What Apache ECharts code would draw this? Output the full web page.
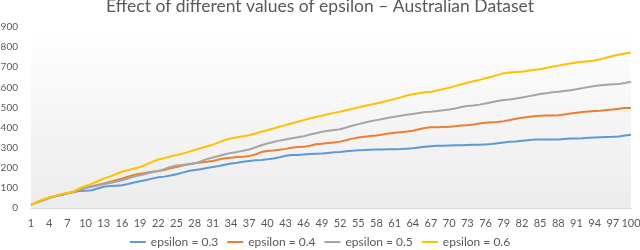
<!DOCTYPE html>
<html>
<head>
<meta charset="utf-8">
<script src="https://cdn.jsdelivr.net/npm/echarts@6/dist/echarts.min.js"></script>
<style>html,body{margin:0;padding:0;background:#fff;}#c{width:640px;height:250px;}</style>
</head>
<body>
<div id="c"></div>
<script>
var categories = [];
for (var i = 1; i <= 100; i++) categories.push(String(i));

var seriesNames = ['epsilon = 0.3', 'epsilon = 0.4', 'epsilon = 0.5', 'epsilon = 0.6'];

var eps03 = [17,28,40,50,58,65,72,79,84,86,88,97,106,109,111,113,119,127,133,139,146,153,156,162,168,176,184,189,193,199,204,209,215,221,225,230,234,237,239,242,246,252,260,263,264,266,268,270,271,274,277,279,282,285,287,288,290,291,291,292,292,293,295,297,301,305,307,309,310,311,312,312,313,314,314,316,318,322,326,329,331,334,337,340,341,341,341,341,343,345,346,347,349,351,352,353,354,356,360,364];

var eps04 = [17,28,40,51,59,66,73,80,88,100,108,115,122,130,138,146,155,164,170,175,180,184,189,197,204,211,218,222,226,230,234,241,247,250,253,255,258,266,278,283,286,290,294,300,303,304,310,317,320,323,326,330,337,345,350,354,358,361,365,370,374,377,380,384,392,398,401,402,403,404,407,410,412,415,420,424,426,428,432,438,444,449,453,456,459,460,460,461,465,470,474,477,480,482,484,487,490,494,497,497];

var eps05 = [17,28,40,51,59,66,73,80,90,100,106,112,118,124,131,138,147,156,163,170,178,184,193,204,211,214,218,222,232,243,251,259,267,274,279,285,291,301,312,321,328,335,341,347,352,357,365,372,379,384,388,392,400,409,417,424,431,437,443,449,454,459,464,467,472,477,479,482,486,490,495,502,507,510,514,520,526,532,537,540,544,549,555,561,567,571,575,578,582,586,590,596,602,607,610,613,615,617,622,628];

var eps06 = [17,30,42,52,60,68,75,82,97,110,120,133,146,156,168,180,188,196,204,216,229,241,248,256,263,270,279,288,297,306,315,326,338,346,352,357,362,370,379,387,395,404,412,420,429,437,445,452,459,466,473,479,486,493,500,507,514,520,527,535,542,550,559,566,571,575,578,584,591,598,606,615,623,630,637,645,653,662,670,674,676,678,682,686,690,696,702,708,713,718,723,727,730,733,740,748,756,763,768,773];

var yTicks = { min: 0, max: 900, interval: 100 };
var titleText = 'Effect of different values of epsilon \u2013 Australian Dataset';

var colors = ['#5B9BD5', '#ED7D31', '#A5A5A5', '#FFC000'];
var dataSets = [eps03, eps04, eps05, eps06];
var font = 'Lato, "Open Sans", sans-serif';

var chart = echarts.init(document.getElementById('c'), null, { renderer: 'canvas' });
chart.setOption({
  animation: false,
  color: colors,
  title: {
    text: titleText,
    left: 'center',
    top: -8,
    textStyle: { fontFamily: font, fontSize: 17.5, fontWeight: 'normal', color: '#595959' }
  },
  legend: {
    data: seriesNames,
    top: 236,
    left: 'center',
    padding: 0,
    itemWidth: 16,
    itemHeight: 10,
    itemGap: 9,
    icon: 'path://M0,4 L16,4 L16,6 L0,6 Z',
    textStyle: { fontFamily: font, fontSize: 12, color: '#595959' }
  },
  grid: {
    left: 31, right: 9, top: 27, bottom: 42,
    outerBoundsMode: 'none',
    containLabel: false,
    show: true, borderWidth: 0,
    backgroundColor: new echarts.graphic.LinearGradient(0, 0, 0, 1, [
      { offset: 0, color: '#ffffff' },
      { offset: 1, color: '#ececec' }
    ])
  },
  xAxis: {
    type: 'category',
    data: categories,
    boundaryGap: false,
    axisLine: { show: true, lineStyle: { color: '#d9d9d9', width: 1 } },
    axisTick: { show: false },
    axisLabel: { interval: 2, margin: 10, fontFamily: font, fontSize: 11, color: '#595959' },
    splitLine: { show: false }
  },
  yAxis: {
    type: 'value',
    min: yTicks.min, max: yTicks.max, interval: yTicks.interval,
    axisLine: { show: false },
    axisTick: { show: false },
    axisLabel: { margin: 13, fontFamily: font, fontSize: 10, color: '#595959' },
    splitLine: { show: false }
  },
  series: seriesNames.map(function (n, k) {
    return {
      name: n, type: 'line', data: dataSets[k], symbol: 'none',
      lineStyle: { width: 2, color: colors[k] }
    };
  })
});
</script>
</body>
</html>
